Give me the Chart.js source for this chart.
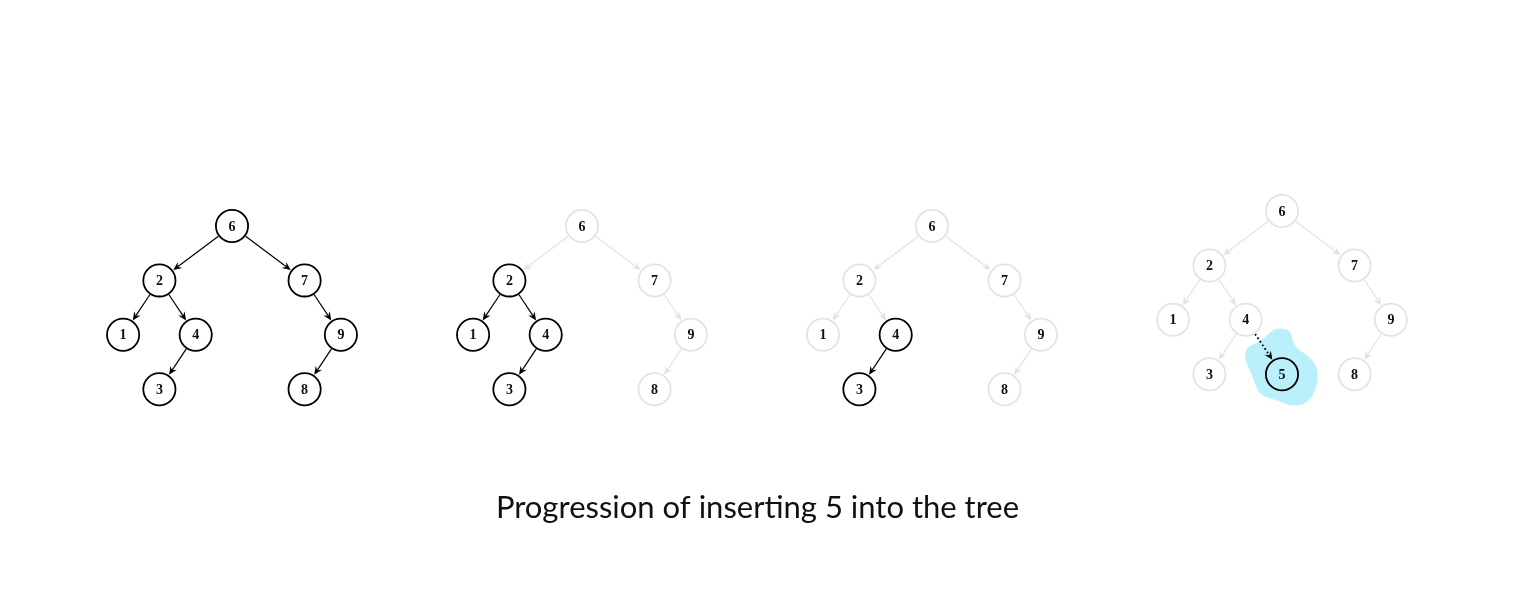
<!DOCTYPE html>
<html>
<head>
<meta charset="utf-8">
<script src="https://cdn.jsdelivr.net/npm/chart.js@4.4.1/dist/chart.umd.min.js"></script>
<style>
  html, body { margin: 0; padding: 0; background: #fff; }
  #wrap { width: 1515px; height: 600px; }
</style>
</head>
<body>
<div id="wrap"><canvas id="tree-steps"></canvas></div>
<script>
"use strict";

/* tree data */
var nodeKeys = [6, 2, 7, 1, 4, 9, 3, 8];
var nodeCols = [0, -2, 2, -3, -1, 3, -2, 2];
var nodeDepths = [0, 1, 1, 2, 2, 2, 3, 3];
var nodeParents = [null, 6, 6, 2, 2, 7, 4, 9];

/* inserted node (last step only) */
var newKey = 5;
var newCol = 0;
var newDepth = 3;
var newParent = 4;

/* which nodes are black in each step */
var stepActive = [
    [6, 2, 7, 1, 4, 9, 3, 8],
    [2, 1, 4, 3],
    [4, 3],
    [5],
];
var title = "Progression of inserting 5 into the tree";

/* layout */
var UNIT_X = 36.3;
var UNIT_Y = 54.4;
var ROOT_PX = 232;
var ROOT_PY = 226;
var STEP_X = 350 / UNIT_X;
var LAST_SHIFT_Y = -15 / UNIT_Y;
var TITLE_SIZE = 31;
var TITLE_PAD = { top: 10, bottom: 73 };
var AREA_H = 600 - (TITLE_PAD.top + TITLE_PAD.bottom + TITLE_SIZE * 1.2);
var R = 17;
var BLACK = "#000";
var GREY = "#e3e3e3";

function xVal(step, col) { return step * STEP_X + col; }
function yVal(step, depth) { return depth + (step === 3 ? LAST_SHIFT_Y : 0); }

/* build points + edges */
var points = [];
var edges = [];
stepActive.forEach(function (active, s) {
    var keys = nodeKeys.slice();
    var cols = nodeCols.slice();
    var depths = nodeDepths.slice();
    var parents = nodeParents.slice();
    if (s === 3) {
        keys.push(newKey); cols.push(newCol); depths.push(newDepth); parents.push(newParent);
    }
    var pos = {};
    keys.forEach(function (k, i) {
        pos[k] = { x: xVal(s, cols[i]), y: yVal(s, depths[i]) };
        points.push({ x: pos[k].x, y: pos[k].y, key: k, on: active.indexOf(k) >= 0 });
    });
    keys.forEach(function (k, i) {
        var p = parents[i];
        if (p === null) return;
        var dotted = (s === 3 && k === newKey);
        var on = dotted || (active.indexOf(k) >= 0 && active.indexOf(p) >= 0);
        edges.push({ from: pos[p], to: pos[k], on: on, dotted: dotted });
    });
});

/* blob around new node, px offsets */
var blobShape = [
    [-6, -46], [9, -45], [11, -28], [33, -14], [37, 5], [29, 27], [12, 33],
    [-5, 26], [-23, 21], [-29, 3], [-38, -16], [-35, -28], [-22, -32], [-13, -41]
];

var treePlugin = {
    id: "treeDraw",
    beforeDatasetsDraw: function (chart) {
        var ctx = chart.ctx;
        var xs = chart.scales.x, ys = chart.scales.y;
        ctx.save();
        /* blob */
        var cx = xs.getPixelForValue(xVal(3, newCol));
        var cy = ys.getPixelForValue(yVal(3, newDepth));
        var n = blobShape.length;
        ctx.beginPath();
        for (var i = 0; i < n; i++) {
            var a = blobShape[i], b = blobShape[(i + 1) % n];
            var mx = cx + (a[0] + b[0]) / 2, my = cy + (a[1] + b[1]) / 2;
            if (i === 0) {
                var z = blobShape[n - 1];
                ctx.moveTo(cx + (z[0] + a[0]) / 2, cy + (z[1] + a[1]) / 2);
            }
            ctx.quadraticCurveTo(cx + a[0], cy + a[1], mx, my);
        }
        ctx.closePath();
        ctx.fillStyle = "#b9f0fc";
        ctx.fill();

        /* edges */
        edges.forEach(function (e) {
            var x1 = xs.getPixelForValue(e.from.x), y1 = ys.getPixelForValue(e.from.y);
            var x2 = xs.getPixelForValue(e.to.x), y2 = ys.getPixelForValue(e.to.y);
            var dx = x2 - x1, dy = y2 - y1, len = Math.sqrt(dx * dx + dy * dy);
            var ux = dx / len, uy = dy / len;
            var sx = x1 + ux * R, sy = y1 + uy * R;
            var tx = x2 - ux * (R + 0.3), ty = y2 - uy * (R + 0.3);
            var col = e.on ? BLACK : GREY;
            var al = 8.5, aw = 3.8;
            ctx.strokeStyle = col;
            ctx.fillStyle = col;
            ctx.lineWidth = e.dotted ? 1.9 : 1.2;
            ctx.setLineDash(e.dotted ? [1.7, 2.6] : []);
            ctx.beginPath();
            ctx.moveTo(sx, sy);
            ctx.lineTo(tx - ux * al * 0.6, ty - uy * al * 0.6);
            ctx.stroke();
            ctx.setLineDash([]);
            ctx.beginPath();
            ctx.moveTo(tx, ty);
            ctx.lineTo(tx - ux * al - uy * aw, ty - uy * al + ux * aw);
            ctx.lineTo(tx - ux * al * 0.65, ty - uy * al * 0.65);
            ctx.lineTo(tx - ux * al + uy * aw, ty - uy * al - ux * aw);
            ctx.closePath();
            ctx.fill();
        });
        ctx.restore();
    },
    afterDatasetsDraw: function (chart) {
        var ctx = chart.ctx;
        var meta = chart.getDatasetMeta(0);
        ctx.save();
        ctx.font = "bold 14px 'Liberation Serif'";
        ctx.fillStyle = "#111";
        ctx.textAlign = "center";
        ctx.textBaseline = "middle";
        meta.data.forEach(function (el, i) {
            ctx.fillText(String(points[i].key), el.x, el.y + 1);
        });
        ctx.restore();
    }
};

var canvas = document.getElementById("tree-steps");
var treeChart = new Chart(canvas, {
    type: "scatter",
    data: {
        datasets: [
            {
                data: points,
                pointRadius: R - 0.9,
                pointHoverRadius: R - 0.9,
                pointBorderWidth: 1.8,
                pointBackgroundColor: "rgba(0,0,0,0)",
                pointBorderColor: points.map(function (p) { return p.on ? BLACK : GREY; }),
            },
        ],
    },
    options: {
        responsive: true,
        maintainAspectRatio: false,
        animation: false,
        layout: { padding: 0, autoPadding: false },
        scales: {
            x: {
                type: "linear",
                display: false,
                min: -ROOT_PX / UNIT_X,
                max: (1515 - ROOT_PX) / UNIT_X,
            },
            y: {
                type: "linear",
                display: false,
                reverse: true,
                min: -ROOT_PY / UNIT_Y,
                max: (AREA_H - ROOT_PY) / UNIT_Y,
            },
        },
        plugins: {
            legend: { display: false },
            tooltip: { enabled: false },
            title: {
                display: true,
                position: "bottom",
                text: title,
                color: "#111",
                font: { family: "Lato", size: TITLE_SIZE, weight: "normal" },
                padding: TITLE_PAD,
            },
        },
    },
    plugins: [treePlugin],
});
</script>
</body>
</html>
